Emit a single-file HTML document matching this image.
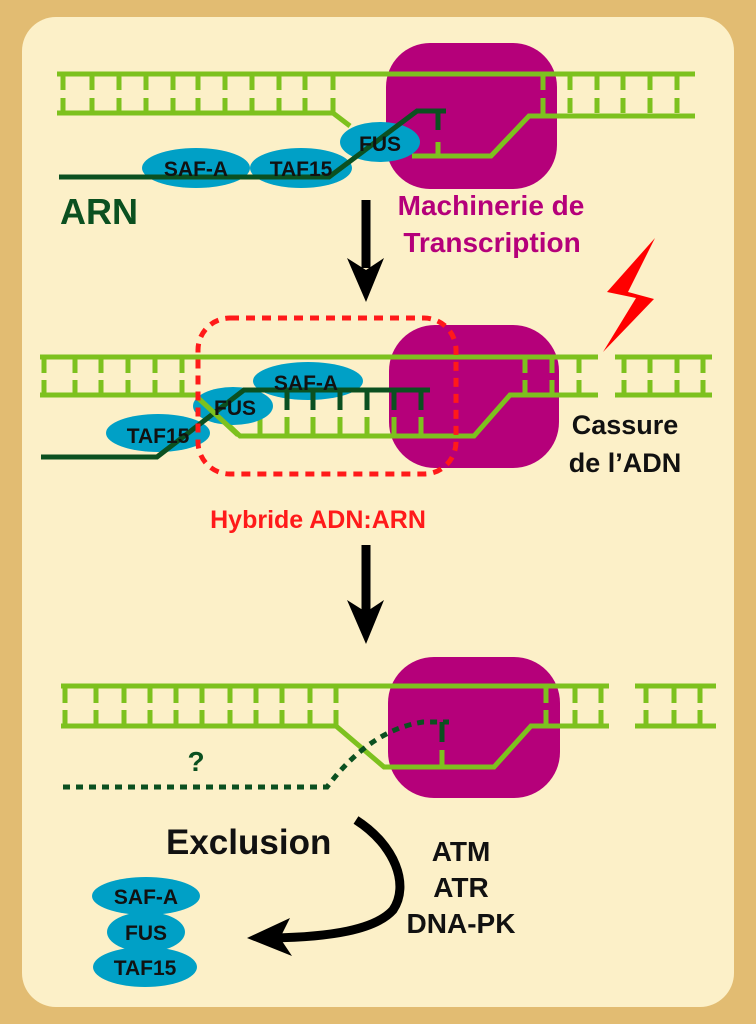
<!DOCTYPE html>
<html><head><meta charset="utf-8"><style>
html,body{margin:0;padding:0;background:#E2BC72;}
svg{display:block;}
text{font-family:"Liberation Sans",Arial,sans-serif;font-weight:bold;}
</style></head><body>
<svg width="756" height="1024" viewBox="0 0 756 1024" xmlns="http://www.w3.org/2000/svg">
<rect x="0" y="0" width="756" height="1024" fill="#E2BC72"/>
<rect x="22" y="17" width="712" height="990" rx="34" fill="#FCF0C8"/>

<!-- ========== PANEL 1 ========== -->
<rect x="386" y="43" width="171" height="146" rx="44" fill="#B5007A"/>
<g stroke="#7DC11E" stroke-width="5" fill="none">
  <path d="M57 74 H695"/>
  <path d="M57 113 H333 L350 126"/>
  <path d="M412 156 H491 L529 116 H695"/>
  <path d="M63 74v16M92 74v16M119 74v16M146 74v16M173 74v16M198 74v16M225 74v16M252 74v16M279 74v16M305 74v16M333 74v16M543 74v16M570 74v16M597 74v16M623 74v16M650 74v16M677 74v16"/>
  <path d="M63 113v-15M92 113v-15M119 113v-15M146 113v-15M173 113v-15M198 113v-15M225 113v-15M252 113v-15M279 113v-15M305 113v-15M333 113v-15M543 116v-18M570 113v-15M597 113v-15M623 113v-15M650 113v-15M677 113v-15"/>
  <path d="M438 156v-14"/>
</g>
<g fill="#00A0C6">
  <ellipse cx="196" cy="168" rx="54" ry="20"/>
  <ellipse cx="301" cy="168" rx="51" ry="20"/>
  <ellipse cx="380" cy="142" rx="40" ry="20"/>
</g>
<g stroke="#0B5020" stroke-width="5" fill="none">
  <path d="M59 177 H329 L417 111 H446"/>
  <path d="M438 111v19"/>
</g>
<g font-size="21" fill="#111" text-anchor="middle">
  <text x="196" y="176">SAF-A</text>
  <text x="301" y="176">TAF15</text>
  <text x="380" y="151">FUS</text>
</g>
<text x="60" y="224" font-size="36" fill="#0B5020">ARN</text>
<g font-size="28" fill="#B5007A" text-anchor="middle">
  <text x="491" y="215">Machinerie de</text>
  <text x="492" y="252">Transcription</text>
</g>

<!-- arrow 1 -->
<path d="M366 200 V268" stroke="#000" stroke-width="9"/>
<path d="M347 258 L366 302 L384 258 L366 270 Z" fill="#000"/>

<!-- lightning -->
<polygon points="655,238 607,292 636,298 603,352 654,299 628,292" fill="#FF0000"/>

<!-- ========== PANEL 2 ========== -->
<rect x="389" y="325" width="170" height="143" rx="46" fill="#B5007A"/>
<g stroke="#7DC11E" stroke-width="5" fill="none">
  <path d="M40 357 H598"/>
  <path d="M615 357 H712 M615 395 H712"/>
  <path d="M40 395 H197 L240 436 H474 L510 395 H598"/>
  <path d="M44 357v16M75 357v16M101 357v16M128 357v16M155 357v16M182 357v16M525 357v16M552 357v16M579 357v16M624 357v16M650 357v16M677 357v16M703 357v16"/>
  <path d="M44 395v-15M75 395v-15M101 395v-15M128 395v-15M155 395v-15M182 395v-15M525 395v-15M552 395v-15M579 395v-15M624 395v-15M650 395v-15M677 395v-15M703 395v-15"/>
  <path d="M260 436v-19M287 436v-19M313 436v-19M340 436v-19M367 436v-19M394 436v-19M421 436v-19"/>
</g>
<g fill="#00A0C6">
  <ellipse cx="308" cy="381" rx="55" ry="19"/>
  <ellipse cx="233" cy="406" rx="40" ry="19"/>
  <ellipse cx="158" cy="433" rx="52" ry="19"/>
</g>
<g stroke="#0B5020" stroke-width="5" fill="none">
  <path d="M41 457 H157 L244 390 H430"/>
  <path d="M287 390v20M313 390v20M340 390v20M367 390v20M394 390v20M421 390v20"/>
</g>
<path d="M197 397 L238 435" stroke="#7DC11E" stroke-width="5"/>
<g font-size="21" fill="#111" text-anchor="middle">
  <text x="306" y="390">SAF-A</text>
  <text x="235" y="415">FUS</text>
  <text x="158" y="443">TAF15</text>
</g>
<rect x="198" y="318" width="258" height="156" rx="32" fill="none" stroke="#FF1A1A" stroke-width="5" stroke-dasharray="9 7"/>
<g font-size="27" fill="#111" text-anchor="middle">
  <text x="625" y="434">Cassure</text>
  <text x="625" y="472">de l’ADN</text>
</g>
<text x="318" y="528" font-size="25" fill="#FF1A1A" text-anchor="middle">Hybride ADN:ARN</text>

<!-- arrow 2 -->
<path d="M366 545 V612" stroke="#000" stroke-width="9"/>
<path d="M347 600 L366 644 L384 600 L366 612 Z" fill="#000"/>

<!-- ========== PANEL 3 ========== -->
<rect x="388" y="657" width="172" height="141" rx="46" fill="#B5007A"/>
<g stroke="#7DC11E" stroke-width="5" fill="none">
  <path d="M61 686 H609"/>
  <path d="M635 686 H716 M635 726 H716"/>
  <path d="M61 726 H336 L384 767 H494 L531 726 H609"/>
  <path d="M65 686v17M96 686v17M124 686v17M150 686v17M176 686v17M202 686v17M230 686v17M256 686v17M282 686v17M310 686v17M336 686v17M546 686v17M575 686v17M601 686v17M646 686v17M674 686v17M700 686v17"/>
  <path d="M65 726v-16M96 726v-16M124 726v-16M150 726v-16M176 726v-16M202 726v-16M230 726v-16M256 726v-16M282 726v-16M310 726v-16M336 726v-16M546 726v-16M575 726v-16M601 726v-16M646 726v-16M674 726v-16M700 726v-16"/>
  <path d="M442 767v-17"/>
</g>
<g stroke="#0B5020" stroke-width="5" fill="none">
  <path d="M63 787 H327 Q370 730 423 722 H449" stroke-dasharray="7 6"/>
  <path d="M442 722v20"/>
</g>
<text x="196" y="771" font-size="28" fill="#0B5020" text-anchor="middle">?</text>

<text x="166" y="854" font-size="35" fill="#111">Exclusion</text>
<g font-size="28" fill="#111" text-anchor="middle">
  <text x="461" y="861">ATM</text>
  <text x="461" y="897">ATR</text>
  <text x="461" y="933">DNA-PK</text>
</g>
<path d="M356 820 C395 845 410 885 393 910 C375 930 330 937 272 938" stroke="#000" stroke-width="9" fill="none"/>
<path d="M247 938 L290 918 L280 938 L292 956 Z" fill="#000"/>

<g fill="#00A0C6">
  <ellipse cx="146" cy="896" rx="54" ry="19"/>
  <ellipse cx="146" cy="932" rx="39" ry="20"/>
  <ellipse cx="145" cy="967" rx="52" ry="20"/>
</g>
<g font-size="21" fill="#111" text-anchor="middle">
  <text x="146" y="904">SAF-A</text>
  <text x="146" y="940">FUS</text>
  <text x="145" y="975">TAF15</text>
</g>
</svg>
</body></html>
